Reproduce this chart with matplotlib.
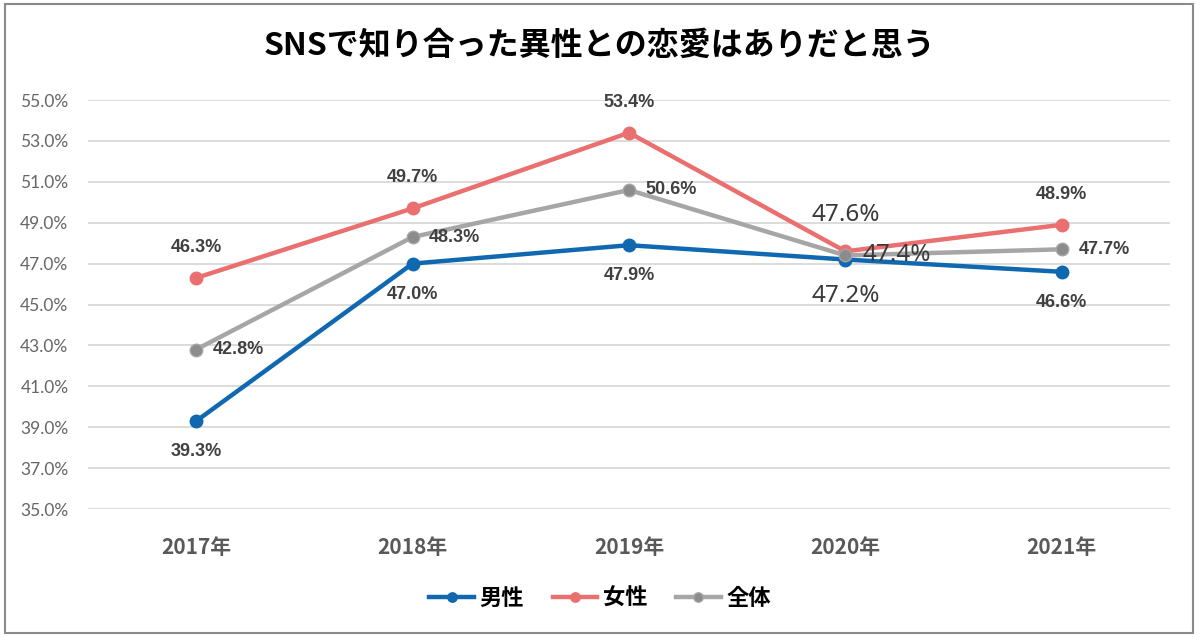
import matplotlib
matplotlib.use("Agg")
import matplotlib.pyplot as plt
from matplotlib.patches import Rectangle

years = ["2017年", "2018年", "2019年", "2020年", "2021年"]
male = [39.3, 47.0, 47.9, 47.2, 46.6]
female = [46.3, 49.7, 53.4, 47.6, 48.9]
total = [42.8, 48.3, 50.6, 47.4, 47.7]
yticks = [35, 37, 39, 41, 43, 45, 47, 49, 51, 53, 55]

plt.rcParams['font.family'] = ['Noto Sans CJK JP', 'DejaVu Sans']

fig = plt.figure(figsize=(12, 6.37), dpi=100)
ax = fig.add_axes([0.0733, 0.2009, 0.9017, 0.6421])

x = list(range(len(years)))
c_m, c_f, c_t = "#1068b0", "#ea7070", "#a6a6a6"
ax.plot(x, male, color=c_m, lw=3.2, marker='o', ms=9, mfc=c_m, mec=c_m, label="男性", zorder=3)
ax.plot(x, female, color=c_f, lw=3.2, marker='o', ms=9, mfc=c_f, mec=c_f, label="女性", zorder=3)
ax.plot(x, total, color=c_t, lw=3.2, marker='o', ms=9, mfc="#8c8c8c", mec=c_t, label="全体", zorder=3)

ax.set_xlim(-0.5, 4.5)
ax.set_ylim(35, 55)
ax.set_yticks(yticks)
ax.set_yticklabels([f"{v:.1f}%" for v in yticks], fontsize=12.5, color="#666666",
                   family=['Lato', 'DejaVu Sans'])
ax.set_xticks(x)
ax.set_xticklabels(years, fontsize=15, fontweight='bold', color="#595959")
ax.tick_params(axis='both', length=0)
ax.tick_params(axis='y', pad=14)
ax.tick_params(axis='x', pad=20)
ax.grid(axis='y', color="#d9d9d9", lw=1.3)
ax.set_axisbelow(True)
for s in ax.spines.values():
    s.set_visible(False)

lab_col = "#404040"
numfam = ['Liberation Sans', 'DejaVu Sans']
for i in x:
    big = (i == 3)
    kw = dict(fontsize=17.5 if big else 13, fontweight='medium' if big else 'bold',
              color="#3a3a3a" if big else lab_col,
              family=['Noto Sans', 'DejaVu Sans'] if big else numfam, textcoords='offset points')
    off = 26 if big else 22
    ax.annotate(f"{male[i]:.1f}%", (i, male[i]), xytext=(0, -off), ha='center', va='center', **kw)
    ax.annotate(f"{female[i]:.1f}%", (i, female[i]), xytext=(0, off), ha='center', va='center', **kw)
    ax.annotate(f"{total[i]:.1f}%", (i, total[i]), xytext=(12, 0), ha='left', va='center', **kw)

fig.text(0.5, 0.928, "SNSで知り合った異性との恋愛はありだと思う", ha='center', va='center',
         fontsize=23, fontweight='bold', color="#000000")

leg = fig.legend(loc='center', bbox_to_anchor=(0.5, 0.061), ncol=3, frameon=False,
                 prop={'family': ['Noto Sans CJK JP', 'DejaVu Sans'], 'weight': 'bold', 'size': 16},
                 handlelength=2.0, columnspacing=1.3, handletextpad=0.25, markerscale=0.75)

fig.patches.append(Rectangle((0.004, 0.006), 0.99, 0.987, transform=fig.transFigure,
                             fill=False, edgecolor="#8a8a8a", lw=1.5))

fig.savefig("out.png", dpi=100, facecolor='white')
